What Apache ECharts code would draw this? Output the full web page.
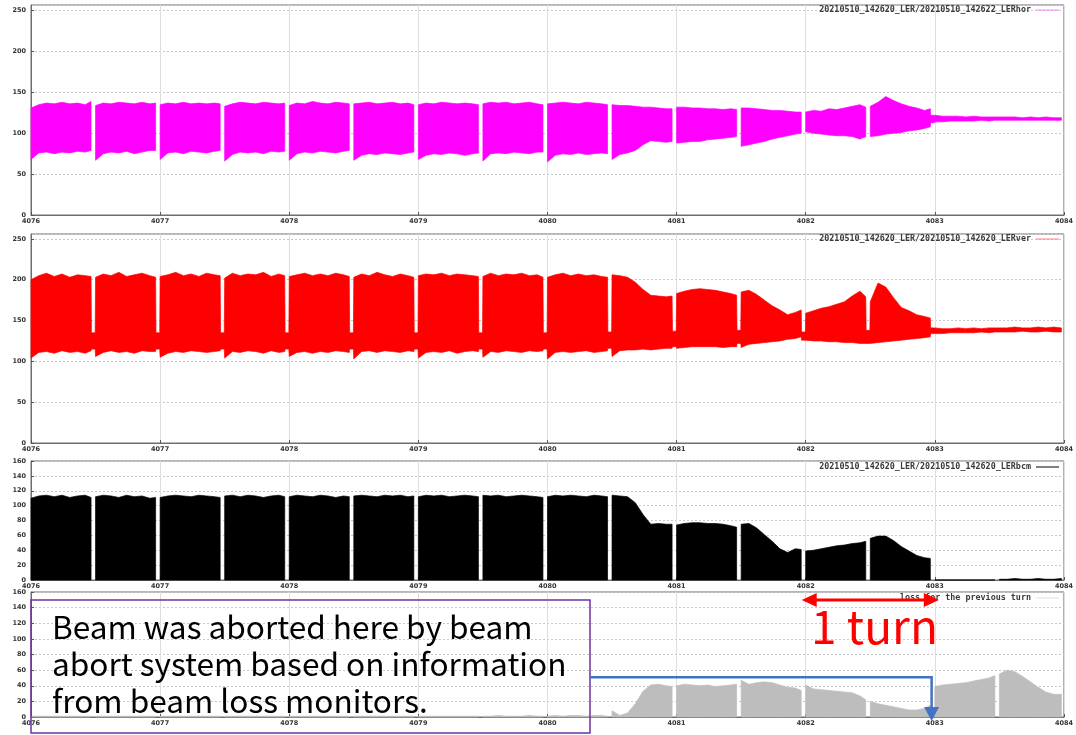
<!DOCTYPE html>
<html><head><meta charset="utf-8">
<script src="https://cdn.jsdelivr.net/npm/echarts@6/dist/echarts.min.js"></script>
<style>html,body{margin:0;padding:0;background:#fff}#c{width:1076px;height:735px}</style>
</head><body><div id="c"></div>
<script>
// turn positions: 9 samples per bunch train, then 2 points spanning the gap before the next train
const turns = [
 4076.00,4076.06,4076.12,4076.18,4076.24,4076.30,4076.36,4076.42,4076.465, 4076.468,4076.497,
 4076.50,4076.56,4076.62,4076.68,4076.74,4076.80,4076.86,4076.92,4076.965, 4076.968,4076.997,
 4077.00,4077.06,4077.12,4077.18,4077.24,4077.30,4077.36,4077.42,4077.465, 4077.468,4077.497,
 4077.50,4077.56,4077.62,4077.68,4077.74,4077.80,4077.86,4077.92,4077.965, 4077.968,4077.997,
 4078.00,4078.06,4078.12,4078.18,4078.24,4078.30,4078.36,4078.42,4078.465, 4078.468,4078.497,
 4078.50,4078.56,4078.62,4078.68,4078.74,4078.80,4078.86,4078.92,4078.965, 4078.968,4078.997,
 4079.00,4079.06,4079.12,4079.18,4079.24,4079.30,4079.36,4079.42,4079.465, 4079.468,4079.497,
 4079.50,4079.56,4079.62,4079.68,4079.74,4079.80,4079.86,4079.92,4079.965, 4079.968,4079.997,
 4080.00,4080.06,4080.12,4080.18,4080.24,4080.30,4080.36,4080.42,4080.465, 4080.468,4080.497,
 4080.50,4080.56,4080.62,4080.68,4080.74,4080.80,4080.86,4080.92,4080.965, 4080.968,4080.997,
 4081.00,4081.06,4081.12,4081.18,4081.24,4081.30,4081.36,4081.42,4081.465, 4081.468,4081.497,
 4081.50,4081.56,4081.62,4081.68,4081.74,4081.80,4081.86,4081.92,4081.965, 4081.968,4081.997,
 4082.00,4082.06,4082.12,4082.18,4082.24,4082.30,4082.36,4082.42,4082.465, 4082.468,4082.497,
 4082.50,4082.56,4082.62,4082.68,4082.74,4082.80,4082.86,4082.92,4082.965, 4082.968,4082.997,
 4083.00,4083.06,4083.12,4083.18,4083.24,4083.30,4083.36,4083.42,4083.465, 4083.468,4083.497,
 4083.50,4083.56,4083.62,4083.68,4083.74,4083.80,4083.86,4083.92,4083.98
];

const horHigh = [
 131,135,137,136,138,136,137,135,139, null,null,
 134,137,136,138,137,136,138,136,137, null,null,
 135,137,136,138,136,137,136,137,136, null,null,
 133,136,138,137,136,138,137,136,137, null,null,
 134,137,136,139,137,136,138,137,136, null,null,
 136,137,138,136,137,138,136,137,135, null,null,
 135,137,136,138,137,136,137,136,135, null,null,
 136,138,137,138,136,137,138,136,135, null,null,
 136,137,138,137,136,138,137,136,135, null,null,
 135,134,134,133,132,132,131,130,130, null,null,
 132,132,131,131,130,130,129,130,129, null,null,
 131,131,130,129,128,128,127,126,126, null,null,
 126,128,127,130,129,131,133,135,132, null,null,
 133,138,145,140,136,133,131,128,130, 122,122,
 122,121,121,121,120,121,120,120,120, 120,120,
 120,120,120,119,120,119,120,119,119
];
const horLow = [
 68,76,77,75,77,76,78,77,79, null,null,
 67,75,77,76,78,75,77,79,79, null,null,
 68,76,77,75,78,77,76,78,79, null,null,
 66,74,77,76,77,75,78,77,78, null,null,
 67,75,77,76,78,77,76,78,79, null,null,
 67,73,75,74,76,75,74,76,77, null,null,
 68,73,75,74,76,75,73,75,76, null,null,
 66,75,76,75,77,76,75,77,77, null,null,
 65,73,75,74,76,74,75,76,75, null,null,
 68,74,76,79,86,91,90,89,90, null,null,
 88,89,90,90,92,93,94,95,96, null,null,
 84,86,88,90,93,95,97,99,100, null,null,
 102,100,99,98,97,97,96,93,96, null,null,
 96,97,99,100,101,103,104,106,108, 113,113,
 114,114,115,115,115,115,116,115,116, 116,116,
 116,116,116,116,116,116,116,116,116
];

const verHigh = [
 200,205,208,204,207,203,206,205,204, 135,135,
 203,207,205,209,204,206,208,205,203, 135,135,
 204,206,209,205,207,204,208,206,205, 135,135,
 202,208,205,207,206,209,204,207,205, 135,135,
 204,206,208,205,207,205,208,206,204, 135,135,
 203,207,205,209,206,204,207,205,203, 135,135,
 205,207,206,208,205,207,206,205,204, 135,135,
 204,208,205,207,206,208,205,206,203, 135,135,
 203,206,208,205,207,205,206,204,203, 136,136,
 206,205,203,197,188,181,180,179,180, 137,137,
 183,186,188,189,188,187,185,183,181, 138,138,
 185,187,182,175,168,163,157,160,163, 136,136,
 159,162,165,167,170,173,180,186,179, 138,138,
 173,196,191,178,166,162,157,155,153, 141,141,
 141,140,140,141,140,141,140,141,141, 141,141,
 141,141,142,141,141,142,141,142,141
];
const verLow = [
 104,111,112,110,113,111,112,110,113, 115,115,
 106,111,113,111,112,110,113,112,112, 115,115,
 105,110,112,111,113,112,111,112,113, 115,115,
 104,112,111,113,112,110,113,111,112, 115,115,
 106,111,112,110,112,111,113,112,111, 115,115,
 103,112,113,111,113,112,111,113,112, 115,115,
 104,111,112,111,113,110,112,113,112, 115,115,
 105,112,111,113,112,111,113,112,113, 115,115,
 103,111,112,111,112,113,111,112,113, 116,116,
 106,113,114,114,115,114,115,116,116, 118,118,
 116,117,118,118,118,118,117,118,118, 122,122,
 117,121,122,123,124,125,127,128,130, 126,126,
 126,125,125,124,124,123,123,122,122, 122,122,
 122,123,124,125,126,127,128,129,130, 134,134,
 134,134,135,135,135,135,136,135,136, 136,136,
 136,136,136,137,136,136,137,136,136
];

const bcm = [
 110,113,114,112,114,111,113,114,111, null,null,
 112,114,113,111,114,112,113,110,111, null,null,
 111,113,114,113,112,114,113,112,111, null,null,
 113,114,112,114,113,111,113,114,112, null,null,
 112,114,113,112,114,113,111,113,112, null,null,
 113,114,113,112,114,113,114,112,113, null,null,
 112,114,113,114,112,113,114,113,112, null,null,
 114,113,114,112,113,114,113,112,111, null,null,
 112,114,113,114,113,112,114,113,112, null,null,
 114,113,112,104,88,75,76,75,75, null,null,
 74,76,77,77,76,76,75,73,71, null,null,
 75,76,70,61,52,42,37,42,41, null,null,
 39,40,42,44,46,47,49,50,52, null,null,
 56,59,59,53,45,39,33,30,29, null,null,
 0,0,0,0,0,0,0,0,0, null,null,
 1,1,2,1,1,2,1,1,2
];

const loss = [
 1,1,1,1,1,1,1,1,1, null,null,
 1,1,1,1,1,1,1,1,1, null,null,
 1,1,1,1,1,1,1,1,1, null,null,
 1,1,1,1,1,1,1,1,1, null,null,
 1,1,1,1,1,1,1,1,1, null,null,
 1,1,1,1,1,1,1,1,1, null,null,
 1,1,1,1,1,1,1,1,1, null,null,
 1,1,2,1,1,1,2,1,1, null,null,
 1,2,1,2,2,1,2,2,1, null,null,
 8,2,5,17,33,41,42,40,39, null,null,
 40,42,41,40,41,39,40,41,42, null,null,
 47,42,44,45,44,41,38,37,34, null,null,
 41,36,35,34,33,32,31,27,22, null,null,
 20,17,15,13,11,9,9,11,15, null,null,
 39,41,42,43,44,46,48,50,53, null,null,
 55,60,58,52,45,38,32,29,29
];

const nameHor = '20210510_142620_LER/20210510_142622_LERhor';
const nameVer = '20210510_142620_LER/20210510_142620_LERver';
const nameBcm = '20210510_142620_LER/20210510_142620_LERbcm';
const nameLoss = 'loss for the previous turn';

const xMin = 4076, xMax = 4084;
const yMax = [257, 256, 160, 160];
const yStep = [50, 50, 20, 20];

// annotation anchors (data units)
const turnFrom = 4082, turnTo = 4083;
const abortTurn = 4082.975;
const arrowLevel = 51;

// split a value list into runs of non-null samples (bunch trains)
const runsOf = ys => {
  const out = []; let cur = [];
  ys.forEach((v, i) => { if (v == null) { if (cur.length) out.push(cur); cur = []; } else cur.push(i); });
  if (cur.length) out.push(cur);
  return out;
};

const bandSeries = (name, idx, hi, lo, color) => {
  const runs = runsOf(hi);
  return {
    type: 'custom', name: name, coordinateSystem: 'cartesian2d', xAxisIndex: idx, yAxisIndex: idx,
    animation: false, silent: true, itemStyle: {color: color},
    data: runs.map(r => [turns[r[0]], hi[r[0]]]),
    renderItem: (params, api) => {
      const r = runs[params.dataIndex];
      const top = r.map(i => api.coord([turns[i], hi[i]]));
      const bot = r.slice().reverse().map(i => api.coord([turns[i], lo ? lo[i] : 0]));
      return {type: 'polygon', shape: {points: top.concat(bot)}, style: {fill: color, stroke: color, lineWidth: 0.7}};
    }
  };
};

const chart = echarts.init(document.getElementById('c'), null, {renderer: 'canvas'});

const grids = [
  {left: 31, top: 5, width: 1038, height: 210},
  {left: 31, top: 234, width: 1038, height: 209},
  {left: 31, top: 461, width: 1038, height: 119},
  {left: 31, top: 592, width: 1038, height: 125}
].map(g => Object.assign(g, {show: true, borderColor: '#6e6e6e', borderWidth: 1, backgroundColor: 'transparent'}));

const lblFont = {fontFamily: 'DejaVu Sans', fontSize: 6.5, fontWeight: 'bold', color: '#333'};

const xAxes = grids.map((g, i) => ({
  type: 'value', gridIndex: i, min: xMin, max: xMax, interval: 1,
  axisLine: {show: true, lineStyle: {color: '#6e6e6e', width: 1}},
  axisTick: {show: true, inside: true, length: 3, lineStyle: {color: '#555'}},
  axisLabel: Object.assign({margin: 3, formatter: v => String(v)}, lblFont),
  splitLine: {show: true, lineStyle: {color: '#dedede', width: 1}}
}));
const yAxes = grids.map((g, i) => ({
  type: 'value', gridIndex: i, min: 0, max: yMax[i], interval: yStep[i],
  axisLine: {show: true, lineStyle: {color: '#6e6e6e', width: 1}},
  axisTick: {show: true, inside: true, length: 3, lineStyle: {color: '#555'}},
  axisLabel: Object.assign({margin: 5, showMaxLabel: yMax[i] % yStep[i] === 0}, lblFont),
  splitLine: {show: true, lineStyle: {color: '#c8c8c8', width: 1, type: [2, 2]}}
}));

const series = [
  bandSeries(nameHor, 0, horHigh, horLow, '#ff00ff'),
  bandSeries(nameVer, 1, verHigh, verLow, '#ff0000'),
  bandSeries(nameBcm, 2, bcm, null, '#000000'),
  bandSeries(nameLoss, 3, loss, null, '#bdbdbd')
];

const legFont = {fontFamily: 'DejaVu Sans Mono', fontSize: 8.4, fontWeight: 'bold', color: '#3a3a3a'};
const mkLegend = (name, col, top) => ({
  data: [{name: name, itemStyle: {color: col}}], right: 17, top: top, orient: 'horizontal',
  align: 'right', icon: 'rect', itemWidth: 23, itemHeight: 1, itemGap: 6, selectedMode: false,
  textStyle: legFont, padding: 0
});

chart.setOption({
  backgroundColor: '#ffffff',
  animation: false,
  grid: grids,
  xAxis: xAxes,
  yAxis: yAxes,
  legend: [
    mkLegend(nameHor, '#ff80ff', 6),
    mkLegend(nameVer, '#ff8080', 235),
    mkLegend(nameBcm, '#000000', 463),
    mkLegend(nameLoss, '#e0e0e0', 594)
  ],
  series: series
});

// annotations positioned through the axes
const px = v => chart.convertToPixel({xAxisIndex: 3}, v);
const py = v => chart.convertToPixel({yAxisIndex: 3}, v);
const xa = px(abortTurn), y0 = py(0), yb = py(arrowLevel);
const xs = px(turnFrom) - 4, xe = px(turnTo) + 4, yr = 600;
const txtFont = '31.6px "Noto Sans CJK JP"';
chart.setOption({
  graphic: [
    {type: 'rect', z: 100, shape: {x: 31, y: 600, width: 559, height: 133}, style: {fill: 'rgba(0,0,0,0)', stroke: '#7030a0', lineWidth: 1.5}},
    {type: 'text', z: 100, x: 52, y: 627, style: {text: 'Beam was aborted here by beam', font: txtFont, fill: '#000', verticalAlign: 'middle'}},
    {type: 'text', z: 100, x: 52, y: 664, style: {text: 'abort system based on information', font: txtFont, fill: '#000', verticalAlign: 'middle'}},
    {type: 'text', z: 100, x: 52, y: 701, style: {text: 'from beam loss monitors.', font: txtFont, fill: '#000', verticalAlign: 'middle'}},
    {type: 'polyline', z: 100, shape: {points: [[590, yb], [xa, yb], [xa, y0 - 9]]}, style: {stroke: '#4472c4', lineWidth: 2.5, fill: null}},
    {type: 'polygon', z: 100, shape: {points: [[xa - 7.5, y0 - 10], [xa + 7.5, y0 - 10], [xa, y0 + 4]]}, style: {fill: '#4472c4'}},
    {type: 'line', z: 100, shape: {x1: xs + 12, y1: yr, x2: xe - 12, y2: yr}, style: {stroke: '#ff0000', lineWidth: 3}},
    {type: 'polygon', z: 100, shape: {points: [[xs, yr], [xs + 15, yr - 7], [xs + 15, yr + 7]]}, style: {fill: '#ff0000'}},
    {type: 'polygon', z: 100, shape: {points: [[xe, yr], [xe - 15, yr - 7], [xe - 15, yr + 7]]}, style: {fill: '#ff0000'}},
    {type: 'text', z: 100, x: 811, y: 627, style: {text: '1 turn', font: '46px "Noto Sans CJK JP"', fill: '#ff0000', verticalAlign: 'middle'}}
  ]
});
</script>
</body></html>
